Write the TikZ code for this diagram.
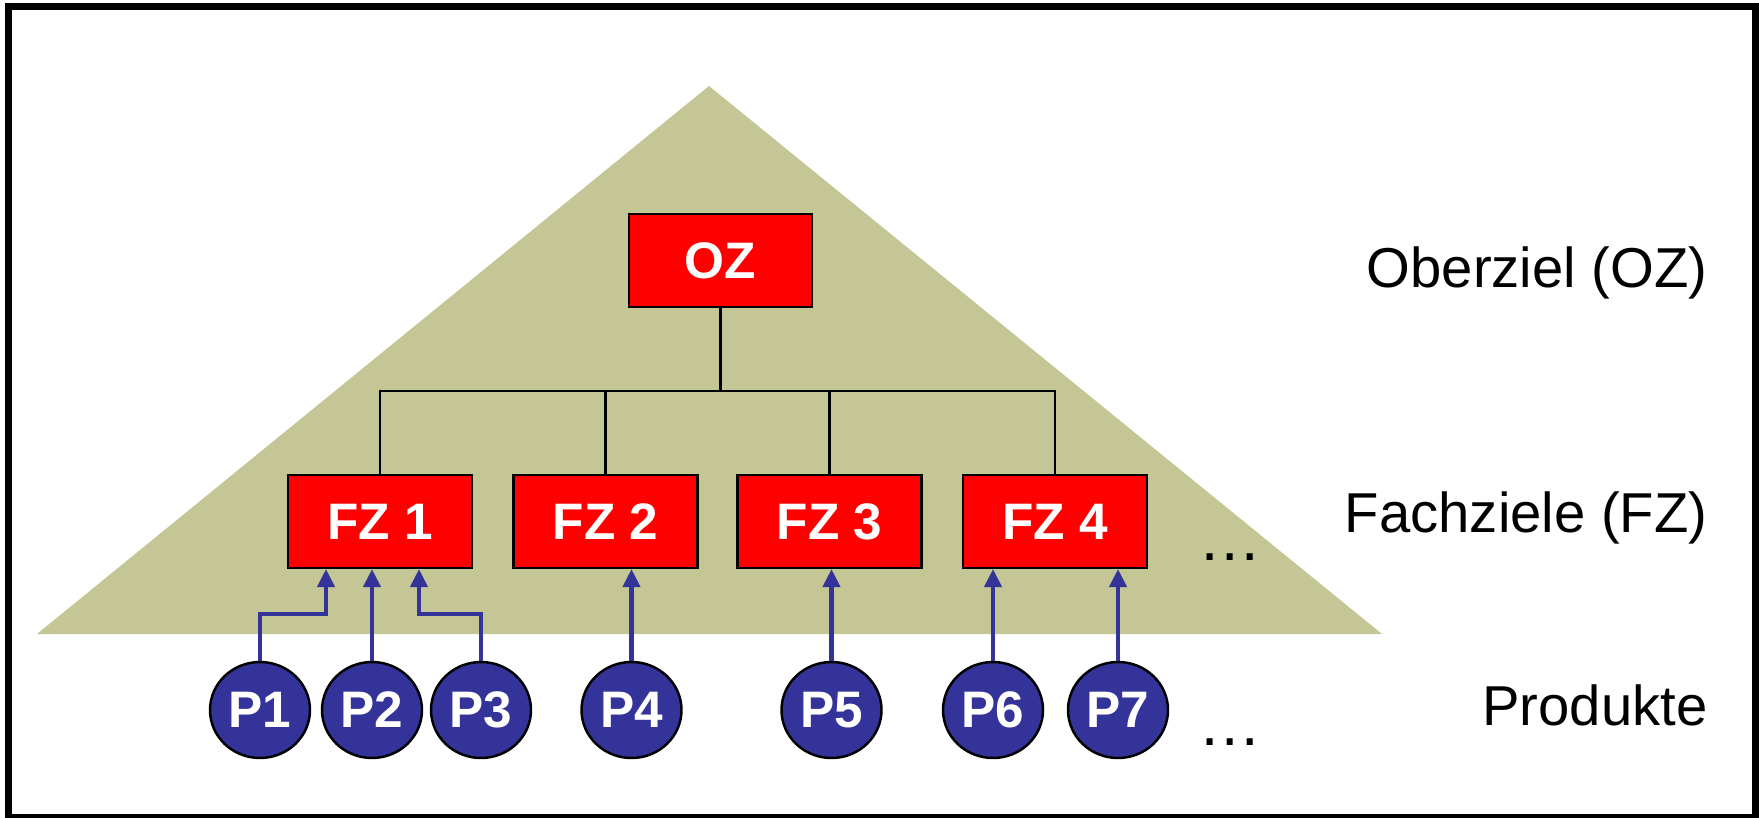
\documentclass[tikz,border=0pt]{standalone}
\usepackage{fontspec}
\setmainfont{Liberation Sans}
\usetikzlibrary{shapes.geometric,arrows.meta}

\definecolor{zielrot}{HTML}{FF0000}
\definecolor{produktblau}{HTML}{333399}
\definecolor{pyramide}{HTML}{C4C795}

\begin{document}
\begin{tikzpicture}[
    ziel/.style={rectangle, draw, fill=zielrot, line width=0.6pt, minimum width=1.84cm, minimum height=0.93cm, text=white, font=\fontsize{14.6}{17}\selectfont\bfseries},
    produkt/.style={ellipse, draw, fill=produktblau, line width=0.7pt, minimum width=1cm, minimum height=0.96cm, inner sep=0pt, text=white, font=\fontsize{14.6}{17}\selectfont\bfseries},
    linie/.style={draw, line width=0.7pt},
    pfeil/.style={draw=produktblau, line width=1.15pt, -{Triangle[length=1.8mm,width=1.7mm]}},
    ebene/.style={anchor=base east, inner sep=0pt, font=\fontsize{16}{19}\selectfont},
    punkte/.style={anchor=base, inner sep=0pt, font=\fontsize{18}{20}\selectfont}
]

% Frame
\useasboundingbox (0,0) rectangle (17.59,8.17);
\draw[line width=0.07cm] (0.085,0) rectangle (17.555,8.105);

% Pyramid
\fill[pyramide] (0.37,1.83) -- (7.09,7.31) -- (13.82,1.83) -- cycle;

% Oberziel
\node[ziel, minimum width=1.83cm] (OZ) at (7.205,5.565) {OZ};

% Fachziele
\foreach \i/\x in {1/3.80, 2/6.055, 3/8.295, 4/10.55}
  \node[ziel] (FZ\i) at (\x,2.955) {FZ \i};

% Produkte
\foreach \i/\x in {1/2.60, 2/3.72, 3/4.81, 4/6.315, 5/8.315, 6/9.93, 7/11.18}
  \node[produkt] (P\i) at (\x,1.07) {P\i};

% Connections OZ - FZ
\coordinate (bus) at (7.205,4.26);
\draw[linie] (OZ) -- (bus);
\foreach \i in {1,2,3,4}
  \draw[linie] (bus) -| (FZ\i);

% Connections P - FZ
\coordinate (knick) at (0,2.03);
\draw[pfeil] (P1) |- ([xshift=-0.54cm]FZ1.south |- knick) -- ([xshift=-0.54cm]FZ1.south);
\draw[pfeil] (P2) -- (P2 |- FZ1.south);
\draw[pfeil] (P3) |- ([xshift=0.39cm]FZ1.south |- knick) -- ([xshift=0.39cm]FZ1.south);
\draw[pfeil] (P4) -- (P4 |- FZ2.south);
\draw[pfeil] (P5) -- (P5 |- FZ3.south);
\draw[pfeil] (P6) -- (P6 |- FZ4.south);
\draw[pfeil] (P7) -- (P7 |- FZ4.south);

% Labels
\node[ebene] (oz-text) at (17.08,5.29) {Oberziel (OZ)};
\node[ebene] (fz-text) at (17.08,2.84) {Fachziele (FZ)};
\node[ebene] (p-text) at (17.08,0.92) {Produkte};

\node[punkte] (fz-mehr) at (12.305,2.57) {…};
\node[punkte] (p-mehr) at (12.305,0.72) {…};

\end{tikzpicture}
\end{document}
